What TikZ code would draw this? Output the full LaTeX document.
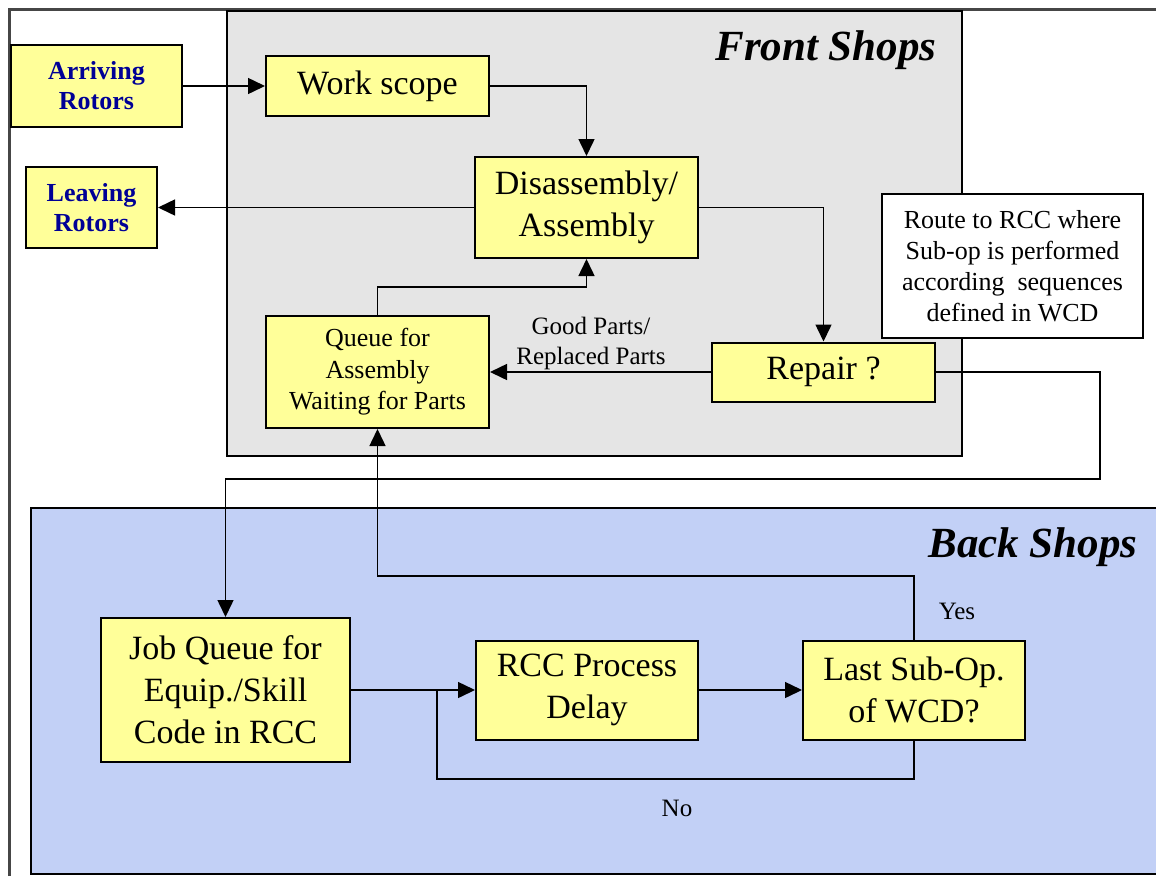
\documentclass[tikz,border=0pt]{standalone}
\usepackage{fontspec}
\setmainfont{Liberation Serif}
\usetikzlibrary{arrows.meta}
\definecolor{boxyellow}{RGB}{255,255,153}
\definecolor{rotorblue}{RGB}{0,0,150}
\definecolor{frontgray}{RGB}{229,229,229}
\definecolor{backblue}{RGB}{194,208,246}
\definecolor{framegray}{RGB}{70,70,70}
\tikzset{
  shopbox/.style={draw, line width=2pt, fill=boxyellow, align=center, inner sep=0pt,
    font=\fontsize{34}{42}\selectfont},
  smallbox/.style={shopbox, font=\fontsize{26}{31.5}\selectfont},
  rotorbox/.style={shopbox, text=rotorblue, font=\fontsize{26}{30}\selectfont\bfseries},
  notebox/.style={smallbox, fill=white, font=\fontsize{26}{31}\selectfont},
  flow/.style={line width=1.5pt, -{Triangle[length=17pt,width=16pt]}},
  plainflow/.style={line width=1.5pt},
  shoptitle/.style={anchor=east, font=\fontsize{43}{50}\selectfont\bfseries\itshape},
  flowlabel/.style={align=center, font=\fontsize{25}{30}\selectfont}
}
\begin{document}
\begin{tikzpicture}[x=1pt, y=-1pt]
        \useasboundingbox (0,0) rectangle (1156,876);
        % shop areas
        \draw [framegray, line width=3pt] (9,876) -- (9,9) -- (1156,9);
        \draw [fill=frontgray, line width=2pt] (227,11) rectangle (962,456);
        \draw [fill=backblue, line width=2pt] (31,508) rectangle (1170,874);
        \node [shoptitle] (fronttitle) at (940,50) {Front Shops};
        \node [shoptitle] (backtitle) at (1141,547) {Back Shops};
        % front shops
        \node [rotorbox, minimum width=171pt, minimum height=82pt] (arriving) at (96.5,86) {Arriving\\Rotors};
        \node [rotorbox, minimum width=131pt, minimum height=81pt] (leaving) at (91.5,207.5) {Leaving\\Rotors};
        \node [shopbox, minimum width=223pt, minimum height=60pt] (workscope) at (377.5,86) {Work scope};
        \node [shopbox, minimum width=223pt, minimum height=101pt] (disasm) at (586.5,207.5) {Disassembly/\\Assembly};
        \node [notebox, minimum width=261pt, minimum height=144pt] (route) at (1012.5,266) {Route to RCC where\\Sub-op is performed\\according\ \ sequences\\defined in WCD};
        \node [smallbox, minimum width=223pt, minimum height=112pt] (queue) at (377.5,372) {Queue for\\Assembly\\Waiting for Parts};
        \node [shopbox, minimum width=223pt, minimum height=59pt] (repair) at (823.5,372) {Repair ?};
        % back shops
        \node [shopbox, minimum width=249pt, minimum height=144pt] (jobqueue) at (225.5,690) {Job Queue for\\Equip./Skill\\Code in RCC};
        \node [shopbox, minimum width=222pt, minimum height=99pt] (rcc) at (587,690) {RCC Process\\Delay};
        \node [shopbox, minimum width=222pt, minimum height=99pt] (lastsub) at (914,690) {Last Sub-Op.\\of WCD?};
        \coordinate (sendback) at (1100,479);
        \coordinate (yesturn) at (914,576);
        \coordinate (noturn) at (437,779);
        \coordinate (merge) at (437,690);
        % connectors
        \draw [flow] (arriving) -- (workscope);
        \draw [flow] (workscope.east) -| (disasm.north);
        \draw [flow] (disasm.west) -- (leaving.east);
        \draw [flow] (disasm.east) -| (repair.north);
        \draw [flow] (repair.west) -- (queue.east);
        \node [flowlabel] (goodparts) at (591,343) {Good Parts/\\Replaced Parts};
        \draw [flow] (queue.north) -- ++(0,-28) -| (disasm.south);
        \draw [flow] (repair.east) -| (sendback) -| (jobqueue.north);
        \draw [flow] (lastsub.north) -- (yesturn) -| (queue.south);
        \node [flowlabel] (yes) at (957,611) {Yes};
        \draw [flow] (jobqueue.east) -- (rcc.west);
        \draw [flow] (rcc.east) -- (lastsub.west);
        \draw [plainflow] (lastsub.south) |- (noturn) -- (merge);
        \node [flowlabel] (no) at (677,808) {No};
\end{tikzpicture}
\end{document}
